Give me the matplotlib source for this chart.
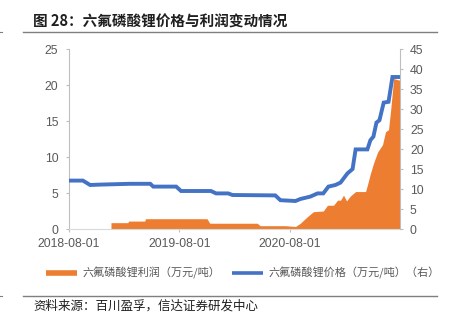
import matplotlib
matplotlib.use("Agg")
import matplotlib.pyplot as plt
import matplotlib.dates as mdates
from matplotlib.lines import Line2D
import numpy as np

plt.rcParams["font.family"] = ["Noto Sans CJK SC", "DejaVu Sans"]

# ── Data ────────────────────────────────────────────────────────────────────
price_dates = [
    "2018-08-01", "2018-09-16", "2018-10-10", "2018-11-12", "2019-02-19",
    "2019-04-27", "2019-05-07", "2019-07-22", "2019-08-07", "2019-11-14",
    "2019-12-01", "2020-01-10", "2020-01-24", "2020-06-14", "2020-07-01",
    "2020-08-20", "2020-09-05", "2020-10-08", "2020-11-01", "2020-11-20",
    "2020-12-07", "2020-12-30", "2021-01-16", "2021-02-08", "2021-02-25",
    "2021-03-07", "2021-04-15", "2021-04-25", "2021-05-05", "2021-05-15",
    "2021-05-25", "2021-06-08", "2021-06-24", "2021-07-07", "2021-08-01",
]
price = [
    12.1, 12.1, 11.0, 11.1, 11.3,
    11.3, 10.6, 10.6, 9.5, 9.5,
    8.9, 8.9, 8.5, 8.4, 7.2,
    7.0, 7.5, 8.1, 8.9, 8.9,
    10.6, 11.0, 11.6, 13.9, 15.0,
    19.9, 19.9, 22.2, 23.1, 26.6,
    27.2, 31.6, 31.8, 38.0, 38.0,
]

profit_dates = [
    "2018-12-18", "2019-02-12", "2019-02-14", "2019-04-09", "2019-04-11",
    "2019-11-01", "2019-11-10", "2020-04-15", "2020-04-25", "2020-07-17",
    "2020-08-20", "2020-09-05", "2020-09-28", "2020-10-18", "2020-11-20",
    "2020-12-04", "2020-12-24", "2021-01-06", "2021-01-16", "2021-01-26",
    "2021-02-05", "2021-02-18", "2021-03-07", "2021-04-09", "2021-04-15",
    "2021-04-25", "2021-05-05", "2021-05-19", "2021-06-04", "2021-06-14",
    "2021-06-24", "2021-07-01", "2021-07-11", "2021-07-27", "2021-08-01",
]
profit = [
    0.88, 0.88, 1.1, 1.1, 1.43,
    1.43, 0.8, 0.8, 0.46, 0.46,
    0.35, 0.8, 1.7, 2.4, 2.5,
    3.3, 3.3, 4.0, 4.0, 4.7,
    3.9, 4.6, 5.2, 5.2, 6.1,
    7.7, 9.1, 10.7, 11.7, 13.5,
    13.8, 16.5, 20.9, 20.7, 20.7,
]

x_ticks = ["2018-08-01", "2019-08-01", "2020-08-01"]
x_range = ["2018-08-01", "2021-08-01"]

TITLE = "图 28：六氟磷酸锂价格与利润变动情况"
SOURCE = "资料来源：百川盈孚，信达证券研发中心"
LBL_PROFIT = "六氟磷酸锂利润（万元/吨）"
LBL_PRICE = "六氟磷酸锂价格（万元/吨）（右）"

ORANGE = "#ED7D31"
BLUE = "#4472C4"
GREY_TXT = "#595959"
GREY_AX = "#BFBFBF"

pd_ = np.array(price_dates, dtype="datetime64[D]").astype("O")
fd_ = np.array(profit_dates, dtype="datetime64[D]").astype("O")
xr = np.array(x_range, dtype="datetime64[D]").astype("O")
xt = np.array(x_ticks, dtype="datetime64[D]").astype("O")

# ── Figure ──────────────────────────────────────────────────────────────────
W, H = 452, 326
fig = plt.figure(figsize=(W / 100, H / 100), dpi=100)
ax = fig.add_axes([69 / W, 1 - 229 / H, (400 - 69) / W, (229 - 49) / H])

ax.fill_between(fd_, 0, profit, color=ORANGE, linewidth=0)
ax.set_xlim(xr[0], xr[1])
ax.set_ylim(0, 25)
ax.set_yticks(np.arange(0, 26, 5))
ax.set_xticks(xt)
ax.xaxis.set_major_formatter(mdates.DateFormatter("%Y-%m-%d"))

ax2 = ax.twinx()
ax2.plot(pd_, price, color=BLUE, linewidth=2.8, solid_joinstyle="miter")
ax2.set_ylim(0, 45)
ax2.set_yticks(np.arange(0, 46, 5))

for a in (ax, ax2):
    for s in ("top",):
        a.spines[s].set_visible(False)
    a.spines["left"].set_color(GREY_AX)
    a.spines["right"].set_color(GREY_AX)
    a.spines["bottom"].set_color("#D9D9D9")
    a.tick_params(colors=GREY_AX, labelcolor=GREY_TXT, length=2.2, width=0.8,
                  labelsize=8.8)
    for lab in a.get_xticklabels() + a.get_yticklabels():
        lab.set_fontfamily(["Liberation Sans", "DejaVu Sans"])
ax.tick_params(axis="y", pad=5.5)
ax.tick_params(axis="x", pad=4.5)
ax2.tick_params(axis="y", pad=5)
ax2.spines["left"].set_visible(False)
ax2.spines["bottom"].set_visible(False)
ax.spines["right"].set_visible(False)

# ── Title, rules, source ────────────────────────────────────────────────────
fig.text(33 / W, 1 - 22 / H, TITLE, fontsize=10.5, fontweight="bold",
         color="#1F1F1F", va="center", ha="left")
for yy in (32, 296):
    fig.add_artist(Line2D([23 / W, 437 / W], [1 - yy / H, 1 - yy / H],
                          color="#7F7F7F", linewidth=1.0))
    fig.add_artist(Line2D([0, 2 / W], [1 - yy / H, 1 - yy / H],
                          color="#7F7F7F", linewidth=0.8))
fig.text(33 / W, 1 - 306 / H, SOURCE, fontsize=9, color="#1F1F1F",
         va="center", ha="left")

# ── Legend ──────────────────────────────────────────────────────────────────
handles = [Line2D([], [], color=ORANGE, linewidth=4.0, solid_capstyle="butt"),
           Line2D([], [], color=BLUE, linewidth=2.6, solid_capstyle="butt")]
fig.legend(handles, [LBL_PROFIT, LBL_PRICE], loc="center left",
           bbox_to_anchor=(46 / W, 1 - 273 / H), ncol=2, frameon=False,
           fontsize=8, labelcolor=GREY_TXT, handlelength=2.8,
           handletextpad=0.45, columnspacing=1.1, borderpad=0,
           borderaxespad=0)

fig.savefig("out.png", dpi=100, facecolor="white")
